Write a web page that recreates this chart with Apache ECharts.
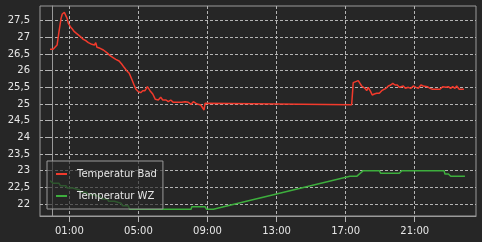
<!DOCTYPE html>
<html>
<head>
<meta charset="utf-8">
<script src="https://cdn.jsdelivr.net/npm/echarts@6/dist/echarts.min.js"></script>
<style>
html,body{margin:0;padding:0;background:#262626;}
#c{width:482px;height:242px;}
</style>
</head>
<body>
<div id="c"></div>
<script>
// hours of day (decimal) and temperatures
var badTimes = [-0.12,-0.02,0.06,0.17,0.29,0.40,0.52,0.59,0.71,0.79,0.87,0.94,1.06,1.17,1.29,1.41,1.52,1.64,1.81,1.95,2.10,2.30,2.45,2.53,2.60,2.78,2.97,3.17,3.36,3.51,3.59,3.69,3.88,4.03,4.17,4.32,4.47,4.61,4.75,4.86,5.00,5.13,5.25,5.38,5.52,5.67,5.83,5.98,6.15,6.29,6.41,6.60,6.73,6.87,7.02,7.25,7.51,7.70,7.80,7.89,8.05,8.18,8.34,8.47,8.53,8.61,8.72,8.80,8.86,8.96,13.0,17.35,17.44,17.54,17.73,17.83,17.93,18.02,18.12,18.22,18.31,18.45,18.54,18.66,18.80,18.95,19.09,19.22,19.34,19.47,19.61,19.73,19.86,19.99,20.11,20.21,20.34,20.46,20.63,20.77,20.92,21.08,21.21,21.36,21.50,21.60,21.73,21.89,22.04,22.23,22.46,22.62,22.81,22.95,23.08,23.20,23.33,23.43,23.58,23.72,23.85];
var badValues = [26.64,26.69,26.64,26.70,26.77,27.17,27.57,27.70,27.75,27.77,27.57,27.42,27.32,27.25,27.17,27.12,27.12,27.02,26.94,26.90,26.84,26.79,26.77,26.84,26.70,26.67,26.62,26.54,26.45,26.40,26.44,26.34,26.29,26.20,26.10,26.00,25.92,25.75,25.57,25.44,25.37,25.34,25.40,25.40,25.52,25.40,25.30,25.14,25.12,25.20,25.12,25.12,25.07,25.12,25.05,25.05,25.05,25.07,25.12,25.05,24.99,25.07,25.02,24.99,24.95,24.97,24.92,24.82,25.02,25.01,25.00,24.98,25.64,25.67,25.70,25.67,25.54,25.57,25.47,25.40,25.50,25.37,25.27,25.30,25.32,25.32,25.40,25.44,25.47,25.54,25.57,25.62,25.57,25.57,25.50,25.54,25.54,25.47,25.50,25.47,25.54,25.50,25.47,25.57,25.54,25.50,25.52,25.47,25.44,25.44,25.44,25.52,25.50,25.52,25.47,25.52,25.47,25.54,25.44,25.44,25.44];

var wzTimes = [-0.12,-0.02,0.06,0.40,0.48,0.80,0.88,1.20,1.28,1.60,1.68,2.00,2.08,2.40,2.48,2.80,2.88,3.20,3.28,3.60,3.68,4.00,4.08,4.40,4.50,8.05,8.09,8.86,8.95,9.34,17.25,17.64,18.02,18.95,19.03,20.11,20.25,22.70,22.75,22.95,23.09,23.91];
var wzValues = [22.70,22.70,22.62,22.62,22.55,22.55,22.48,22.48,22.42,22.42,22.35,22.35,22.28,22.28,22.22,22.22,22.15,22.15,22.08,22.08,22.02,22.02,21.95,21.95,21.84,21.84,21.92,21.92,21.84,21.84,22.83,22.83,23.00,23.00,22.92,22.92,23.00,23.00,22.90,22.90,22.83,22.83];

var seriesNames = ['Temperatur Bad', 'Temperatur WZ'];
var xTicks = [1, 5, 9, 13, 17, 21];
var yTicks = [22, 22.5, 23, 23.5, 24, 24.5, 25, 25.5, 26, 26.5, 27, 27.5];

function pairs(t, v) { return t.map(function (x, i) { return [x, v[i]]; }); }

var chart = echarts.init(document.getElementById('c'), null, { renderer: 'canvas' });
var gridLine = { show: true, lineStyle: { color: '#b4b4b4', type: [3, 2], width: 1 } };
chart.setOption({
  backgroundColor: '#262626',
  animation: false,
  textStyle: { fontFamily: 'DejaVu Sans' },
  grid: { left: 40, top: 6, right: 6, bottom: 26, show: true, borderColor: '#9a9a9a', borderWidth: 1, backgroundColor: 'transparent' },
  legend: {
    orient: 'vertical', left: 47, top: 161,
    padding: [6, 6, 6, 9],
    itemGap: 8, itemWidth: 11, itemHeight: 2,
    backgroundColor: 'rgba(38,38,38,0.65)', borderColor: '#9a9a9a', borderWidth: 1,
    textStyle: { color: '#e6e6e6', fontSize: 10, fontFamily: 'DejaVu Sans', lineHeight: 14, padding: [0, 0, 0, 5] },
    data: [{ name: seriesNames[0], icon: 'rect' }, { name: seriesNames[1], icon: 'rect' }]
  },
  xAxis: {
    type: 'value', min: -0.70, max: 24.55,
    axisLine: { show: true, lineStyle: { color: '#9a9a9a' } },
    axisTick: { show: true, length: 6, customValues: xTicks, lineStyle: { color: '#b4b4b4' } },
    axisLabel: { customValues: xTicks, margin: 10, color: '#e6e6e6', fontSize: 10, fontFamily: 'DejaVu Sans',
      formatter: function (v) { return (v < 10 ? '0' : '') + v + ':00'; } },
    splitLine: gridLine
  },
  yAxis: {
    type: 'value', min: 21.64, max: 27.94,
    axisLine: { show: true, lineStyle: { color: '#9a9a9a' } },
    axisTick: { show: true, length: 6, customValues: yTicks, lineStyle: { color: '#b4b4b4' } },
    axisLabel: { customValues: yTicks, margin: 10, color: '#e6e6e6', fontSize: 10, fontFamily: 'DejaVu Sans',
      formatter: function (v) { return String(v).replace('.', ','); } },
    splitLine: gridLine
  },
  series: [
    { name: seriesNames[0], type: 'line', data: pairs(badTimes, badValues), showSymbol: false, symbol: 'none',
      lineStyle: { color: '#f23a2c', width: 1.5 }, itemStyle: { color: '#f23a2c' } },
    { name: seriesNames[1], type: 'line', data: pairs(wzTimes, wzValues), showSymbol: false, symbol: 'none',
      lineStyle: { color: '#3dae3d', width: 1.5 }, itemStyle: { color: '#3dae3d' } }
  ]
});
</script>
</body>
</html>
